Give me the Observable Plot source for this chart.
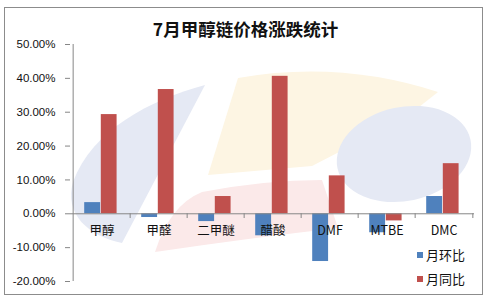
<!DOCTYPE html>
<html>
<head>
<meta charset="utf-8">
<script src="https://cdn.jsdelivr.net/npm/d3@7"></script>
<script src="https://cdn.jsdelivr.net/npm/@observablehq/plot@0.6"></script>
<style>
  html, body { margin: 0; padding: 0; background: #fff; }
  #wrap { position: relative; width: 491px; height: 303px; overflow: hidden; font-family: "Liberation Sans", "Noto Sans CJK SC", sans-serif; }
  #border { position: absolute; left: 4px; top: 7px; width: 479px; height: 288px; border: 1px solid #8c8c8c; box-sizing: border-box; }
  #bg, #chart { position: absolute; left: 0; top: 0; }
  #title { position: absolute; left: 0; width: 491px; top: 18px; text-align: center; font-family: "Noto Sans CJK SC", serif; font-weight: 700; font-size: 17.5px; line-height: 22px; color: #111; }
  .leg { position: absolute; left: 417px; font-family: "Noto Sans CJK SC", sans-serif; font-size: 13px; line-height: 16px; color: #111; }
  .leg span.sw { display: inline-block; width: 6px; height: 6px; margin-right: 3px; vertical-align: 2px; }
</style>
</head>
<body>
<div id="wrap">
  <svg id="bg" width="491" height="303">
    <path d="M205,85 C150,100 92,130 73,182 C64,214 88,236 122,243 Z" fill="#e5e9f4"/>
    <path d="M238,78 Q340,60 438,92 L405,118 L312,166 L208,175 Z" fill="#fdf5e3"/>
    <path d="M155,252 Q170,205 202,192 Q265,180 322,180 L338,228 Q250,238 155,252 Z" fill="#fbe9e9"/>
    <ellipse cx="404" cy="154" rx="68" ry="47" transform="rotate(-12 404 154)" fill="#e5e9f4"/>
  </svg>
  <div id="chart"></div>
  <div id="border"></div>
  <div id="title">7月甲醇链价格涨跌统计</div>
  <div class="leg" style="top:247px"><span class="sw" style="background:#4F81BD"></span>月环比</div>
  <div class="leg" style="top:271px"><span class="sw" style="background:#C0504D"></span>月同比</div>
</div>
<script>
const categories = ["甲醇", "甲醛", "二甲醚", "醋酸", "DMF", "MTBE", "DMC"];
const momValues = [0.033, -0.011, -0.023, -0.065, -0.141, -0.056, 0.051];   // 月环比
const yoyValues = [0.293, 0.367, 0.051, 0.406, 0.112, -0.021, 0.148];       // 月同比
const yTicks = [-0.2, -0.1, 0, 0.1, 0.2, 0.3, 0.4, 0.5];
const seriesNames = ["月环比", "月同比"];

const W = 491, H = 303, mL = 70, mR = 17, mT = 44, mB = 22;
const bw = (W - mL - mR) / categories.length;
const axisColor = "#868686";
const fmt = d => (d * 100).toFixed(2) + "%";

const chart = Plot.plot({
  width: W, height: H,
  marginLeft: mL, marginRight: mR, marginTop: mT, marginBottom: mB,
  style: { background: "transparent", fontFamily: "'Liberation Sans', 'Noto Sans CJK SC', sans-serif", overflow: "visible" },
  x: { type: "band", domain: categories, padding: 0, axis: null },
  y: { domain: [-0.2, 0.5], axis: null },
  marks: [
    Plot.barY(categories, { x: d => d, y1: 0, y2: (d, i) => momValues[i], fill: "#4F81BD", insetLeft: 11.2, insetRight: bw - 27.8 }),
    Plot.barY(categories, { x: d => d, y1: 0, y2: (d, i) => yoyValues[i], fill: "#C0504D", insetLeft: 27.8, insetRight: bw - 44.3 }),
    Plot.ruleY([0], { stroke: axisColor }),
    Plot.ruleX([categories[0]], { x: d => d, dx: -bw / 2, y1: -0.2, y2: 0.5, stroke: axisColor }),
    Plot.ruleX(categories.slice(1), { x: d => d, dx: -bw / 2, y1: 0, y2: -0.014, stroke: axisColor }),
    Plot.ruleX([categories[categories.length - 1]], { x: d => d, dx: bw / 2, y1: 0, y2: -0.014, stroke: axisColor }),
    Plot.axisY(yTicks, { tickFormat: fmt, tickSize: 5, tickPadding: 10, stroke: axisColor, fontSize: 11.5, fill: "#111" }),
    Plot.text(categories, { x: d => d, y: 0, dy: 17, text: d => d, fontSize: 12.5, fill: "#111", fontFamily: "'Noto Sans CJK SC', sans-serif" })
  ]
});
document.getElementById("chart").appendChild(chart);
</script>
</body>
</html>
